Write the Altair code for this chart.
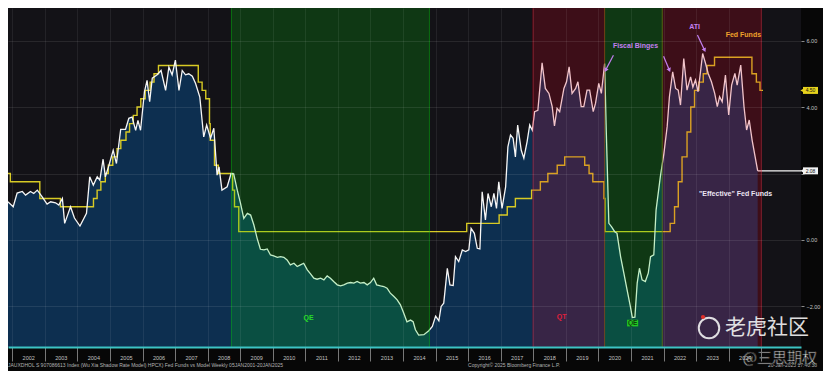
import altair as alt
import pandas as pd

# ---------------- data ----------------
# Wu-Xia shadow rate ("effective" fed funds), decimal years / percent
SHADOW_T = [2001.865, 2002.03, 2002.15, 2002.31, 2002.41, 2002.56, 2002.66, 2002.77, 2002.92, 2003.07,
            2003.18, 2003.33, 2003.43, 2003.54, 2003.61, 2003.79, 2003.91, 2004.08, 2004.28, 2004.38,
            2004.49, 2004.61, 2004.69, 2004.79, 2004.86, 2004.97, 2005.10, 2005.20, 2005.33, 2005.48,
            2005.58, 2005.68, 2005.79, 2005.86, 2005.94, 2006.06, 2006.14, 2006.22, 2006.30, 2006.45,
            2006.57, 2006.71, 2006.81, 2006.91, 2007.01, 2007.12, 2007.22, 2007.32, 2007.42, 2007.53,
            2007.63, 2007.76, 2007.88, 2007.97, 2008.09, 2008.19, 2008.29, 2008.35, 2008.44, 2008.60,
            2008.72, 2008.80, 2008.91, 2009.01, 2009.11, 2009.22, 2009.32, 2009.42, 2009.52, 2009.62,
            2009.73, 2009.83, 2009.93, 2010.03, 2010.14, 2010.24, 2010.34, 2010.44, 2010.54, 2010.65,
            2010.75, 2010.85, 2010.95, 2011.06, 2011.16, 2011.26, 2011.36, 2011.47, 2011.57, 2011.67,
            2011.77, 2011.87, 2011.98, 2012.08, 2012.18, 2012.29, 2012.39, 2012.49, 2012.59, 2012.69,
            2012.80, 2012.90, 2013.00, 2013.10, 2013.19, 2013.31, 2013.41, 2013.51, 2013.61, 2013.72,
            2013.82, 2013.92, 2014.02, 2014.12, 2014.23, 2014.31, 2014.38, 2014.48, 2014.64, 2014.79,
            2014.90, 2015.00, 2015.10, 2015.17, 2015.25, 2015.36, 2015.44, 2015.54, 2015.61, 2015.71,
            2015.82, 2015.92, 2016.02, 2016.09, 2016.19, 2016.28, 2016.36, 2016.43, 2016.53, 2016.61,
            2016.71, 2016.79, 2016.87, 2016.94, 2017.04, 2017.15, 2017.22, 2017.30, 2017.38, 2017.45,
            2017.52, 2017.63, 2017.71, 2017.81, 2017.89, 2017.97, 2018.04, 2018.14, 2018.27, 2018.37,
            2018.48, 2018.58, 2018.65, 2018.73, 2018.81, 2018.94, 2019.02, 2019.10, 2019.19, 2019.30,
            2019.37, 2019.47, 2019.55, 2019.65, 2019.73, 2019.84, 2019.91, 2020.01, 2020.09, 2020.19,
            2020.24, 2020.32, 2020.40, 2020.50, 2020.57, 2020.68, 2020.78, 2020.88, 2020.98, 2021.04,
            2021.12, 2021.19, 2021.26, 2021.34, 2021.44, 2021.53, 2021.60, 2021.70, 2021.77, 2021.90,
            2022.01, 2022.11, 2022.18, 2022.28, 2022.37, 2022.45, 2022.52, 2022.62, 2022.72, 2022.83,
            2022.90, 2022.98, 2023.06, 2023.14, 2023.20, 2023.29, 2023.37, 2023.47, 2023.57, 2023.65,
            2023.72, 2023.80, 2023.90, 2024.00, 2024.09, 2024.19, 2024.26, 2024.37, 2024.47, 2024.55,
            2024.63, 2024.72, 2024.89]
SHADOW_V = [1.15, 1.0, 1.41, 1.46, 1.35, 1.46, 1.4, 1.5, 1.3, 1.08,
            1.15, 1.12, 1.05, 1.25, 0.5, 1.0, 0.66, 0.42, 0.8, 1.9,
            1.65, 1.9, 1.8, 2.43, 1.9, 2.25, 2.7, 2.3, 3.33, 3.33,
            3.66, 3.7, 3.3, 3.6, 3.3, 4.46, 4.8, 4.16, 4.87, 4.97,
            5.1, 4.5, 5.2, 4.97, 5.41, 4.5, 5.1, 4.97, 5.0, 4.93,
            4.71, 4.3, 3.1, 3.46, 3.06, 3.36, 1.95, 2.2, 1.5, 1.6,
            2.0, 1.99, 1.5, 1.1, 0.65, 0.8, 0.75, 0.45, 0.05, -0.28,
            -0.30, -0.27, -0.45, -0.48, -0.52, -0.5, -0.52, -0.6, -0.75, -0.7,
            -0.8, -0.75, -0.7, -0.9, -1.02, -1.15, -1.18, -1.15, -1.2, -1.08,
            -1.15, -1.25, -1.35, -1.38, -1.35, -1.3, -1.28, -1.3, -1.25, -1.3,
            -1.28, -1.35, -1.28, -1.15, -1.35, -1.38, -1.4, -1.45, -1.6, -1.7,
            -1.8, -1.95, -2.2, -2.46, -2.41, -2.46, -2.7, -2.86, -2.85, -2.73,
            -2.6, -2.29, -2.43, -2.0, -1.9, -0.85, -1.35, -1.37, -0.5, -0.65,
            -0.3, -0.35, -0.3, 0.35, 0.2, -0.25, -0.27, 1.45, 0.6, 1.4,
            1.0, 1.4, 0.95, 1.75, 0.95, 1.6, 2.8, 3.16, 3.06, 2.5,
            3.46, 2.7, 2.46, 2.96, 3.46, 3.3, 3.86, 3.9, 5.33, 4.56,
            4.41, 4.01, 3.43, 3.96, 3.86, 4.56, 4.76, 5.21, 4.41, 4.56,
            4.76, 4.01, 4.01, 4.51, 4.51, 3.86, 4.11, 4.71, 4.41, 5.31,
            3.3, 0.5, 0.4, 0.25, 0.2, -0.5, -1.0, -1.5, -2.0, -2.33,
            -2.32, -1.3, -0.85, -1.2, -1.25, -1.0, -0.5, -0.45, 0.9, 1.9,
            2.6, 3.41, 4.31, 5.06, 4.56, 4.51, 4.06, 5.46, 4.51, 4.91,
            4.6, 4.81, 4.46, 5.11, 5.61, 5.31, 5.01, 4.76, 4.41, 4.01,
            4.31, 4.16, 4.96, 3.76, 4.66, 5.01, 4.66, 5.26, 4.01, 3.31,
            3.61, 3.0, 2.08]
LAST_SHADOW = 2.08

# Fed funds target (upper bound) changes
FF_DATES = ["2001-10-02", "2001-11-06", "2001-12-11", "2002-11-06", "2003-06-25", "2004-06-30",
            "2004-08-10", "2004-09-21", "2004-11-10", "2004-12-14", "2005-02-02", "2005-03-22",
            "2005-05-03", "2005-06-30", "2005-08-09", "2005-09-20", "2005-11-01", "2005-12-13",
            "2006-01-31", "2006-03-28", "2006-05-10", "2006-06-29", "2007-09-18", "2007-10-31",
            "2007-12-11", "2008-01-22", "2008-01-30", "2008-03-18", "2008-04-30", "2008-10-08",
            "2008-10-29", "2008-12-16", "2015-12-16", "2016-12-14", "2017-03-15", "2017-06-14",
            "2017-12-13", "2018-03-21", "2018-06-13", "2018-09-26", "2018-12-19", "2019-07-31",
            "2019-09-18", "2019-10-30", "2020-03-03", "2020-03-15", "2022-03-16", "2022-05-04",
            "2022-06-15", "2022-07-27", "2022-09-21", "2022-11-02", "2022-12-14", "2023-02-01",
            "2023-03-22", "2023-05-03", "2023-07-26", "2024-09-18", "2024-11-07", "2024-12-18",
            "2025-01-20"]
FF_RATE = [2.5, 2.0, 1.75, 1.25, 1.0, 1.25, 1.5, 1.75, 2.0, 2.25, 2.5, 2.75, 3.0, 3.25, 3.5, 3.75,
           4.0, 4.25, 4.5, 4.75, 5.0, 5.25, 4.75, 4.5, 4.25, 3.5, 3.0, 2.25, 2.0, 1.5, 1.0, 0.25,
           0.5, 0.75, 1.0, 1.25, 1.5, 1.75, 2.0, 2.25, 2.5, 2.25, 2.0, 1.75, 1.25, 0.25, 0.5, 1.0,
           1.75, 2.5, 3.25, 4.0, 4.5, 4.75, 5.0, 5.25, 5.5, 5.0, 4.75, 4.5, 4.5]
LAST_FF = 4.5

# QE / QT regimes
BAND_START = [2008.73, 2017.99, 2020.19, 2021.96]
BAND_END = [2014.81, 2020.19, 2021.96, 2025.00]
BAND_KIND = ["QE", "QT", "QE", "QT"]

# annotation texts and their anchor (year, value)
NOTE_TEXT = ["Fiscal Binges", "ATI", "Fed Funds", "\"Effective\" Fed Funds"]
NOTE_T = [2021.14, 2022.95, 2024.45, 2024.21]
NOTE_V = [5.83, 6.41, 6.17, 1.38]
NOTE_COLOR = ["#c27ff0", "#c27ff0", "#f0a22a", "#ece4f2"]

ARROW_T = [2020.46, 2022.00, 2023.04]
ARROW_V = [5.56, 5.53, 6.17]
ARROW_T2 = [2020.22, 2022.18, 2023.26]
ARROW_V2 = [5.11, 5.11, 5.71]
ARROW_ANGLE = [208, 157, 155]

REGIME_TEXT = ["QE", "QT", "QE"]
REGIME_T = [2011.10, 2018.87, 2021.05]
REGIME_V = [-2.35, -2.32, -2.5]
REGIME_BOXED = [False, False, True]

YEAR_TICKS = list(range(2002, 2026))
Y_TICKS = [-2, 0, 2, 4, 6]

FOOT_LEFT = "JAUXDHOL S 907086613 Index (Wu Xia Shadow Rate Model) HPCX) Fed Funds vs Model  Weekly 05JAN2001-20JAN2025"
FOOT_MID = "Copyright\u00a9 2025 Bloomberg Finance L.P."
FOOT_RIGHT = "20-Jan-2025 17:40:38"
WATERMARK_1 = "老虎社区"
WATERMARK_2 = "@三思期权"

# ---------------- layout ----------------
X_MIN, X_MAX = 2001.87, 2026.22
Y_MIN, Y_MAX = -3.22, 6.98
W, H = 793, 339
FONT = "Liberation Sans"


def dec_year(s):
    ts = pd.Timestamp(s)
    days = 366 if ts.is_leap_year else 365
    return ts.year + (ts.dayofyear - 1) / days


shadow = pd.DataFrame({"t": SHADOW_T, "v": SHADOW_V})
ff = pd.DataFrame({"t": [dec_year(d) for d in FF_DATES], "v": FF_RATE})
bands = pd.DataFrame({"t": BAND_START, "t2": BAND_END, "kind": BAND_KIND})
edges = pd.DataFrame({"t": BAND_START + BAND_END, "kind": BAND_KIND + BAND_KIND})
notes = pd.DataFrame({"t": NOTE_T, "v": NOTE_V, "txt": NOTE_TEXT, "c": NOTE_COLOR})
arrows = pd.DataFrame({"t": ARROW_T, "v": ARROW_V, "t2": ARROW_T2, "v2": ARROW_V2, "a": ARROW_ANGLE})
regimes = pd.DataFrame({"t": REGIME_T, "v": REGIME_V, "txt": REGIME_TEXT, "boxed": REGIME_BOXED})
plain_reg = regimes[~regimes.boxed]
boxed_reg = regimes[regimes.boxed].assign(t1=lambda d: d.t - 0.17, t2=lambda d: d.t + 0.17,
                                          v1=lambda d: d.v - 0.1, v2=lambda d: d.v + 0.1)
lastdf = pd.DataFrame({"t": [SHADOW_T[-1]], "t2": [X_MAX], "v": [LAST_SHADOW]})
boxes = pd.DataFrame({"v": [LAST_FF, LAST_SHADOW],
                      "hi": [LAST_FF + 0.105, LAST_SHADOW + 0.105],
                      "lo": [LAST_FF - 0.105, LAST_SHADOW - 0.105],
                      "txt": [f"{LAST_FF:.2f}", f"{LAST_SHADOW:.2f}"],
                      "fill": ["#e6d21c", "#f2f2f2"]})
one = pd.DataFrame({"k": [0]})

xscale = alt.Scale(domain=[X_MIN, X_MAX], nice=False, zero=False)
yscale = alt.Scale(domain=[Y_MIN, Y_MAX], nice=False, zero=False)

xaxis = alt.Axis(values=YEAR_TICKS, labelExpr="datum.value > 2024 ? '' : format(datum.value, 'd')",
                 labelOffset=16, labelPadding=-6, tickSize=14, tickColor="#777777",
                 labelColor="#c4c4c4", labelFontSize=5.5, labelFont=FONT,
                 domainColor="#3cc4c4", domainWidth=2, grid=True, gridColor="#ffffff",
                 gridOpacity=0.07, title=None, zindex=1, labelFlush=False, labelOverlap=False)
yaxis = alt.Axis(orient="right", values=Y_TICKS,
                 labelExpr="datum.value == 2 ? '' : format(datum.value, '.2f')",
                 tickSize=3, tickColor="#8a8a8a", labelColor="#c4c4c4", labelFontSize=5.5,
                 labelFont=FONT, labelPadding=2, domain=False, grid=True, gridColor="#ffffff",
                 gridOpacity=0.09, title=None, zindex=1)


def X(f):
    return alt.X(f, type="quantitative", scale=xscale, axis=xaxis)


def Y(f):
    return alt.Y(f, type="quantitative", scale=yscale, axis=yaxis)


kind_color = alt.Color("kind:N", scale=alt.Scale(domain=["QE", "QT"], range=["#00d00c", "#e6001e"]),
                       legend=None)

area = alt.Chart(shadow).mark_area(color="#0d2f50", clip=True).encode(
    x=X("t"), y=Y("v"), y2=alt.datum(Y_MIN))
ffline = alt.Chart(ff).mark_line(color="#d8ca24", strokeWidth=1.4, interpolate="step-after",
                                 clip=True).encode(x=X("t"), y=Y("v"))
shline = alt.Chart(shadow).mark_line(color="#f6f6f6", strokeWidth=1.3, clip=True).encode(
    x=X("t"), y=Y("v"))
lastrule = alt.Chart(lastdf).mark_rule(color="#f6f6f6", strokeWidth=1.3).encode(
    x=X("t"), x2="t2", y=Y("v"))

bandrect = alt.Chart(bands).mark_rect(opacity=0.2).encode(
    x=X("t"), x2="t2", y=alt.value(0), y2=alt.value(H), color=kind_color)
bandedge = alt.Chart(edges).mark_rule(opacity=0.45, strokeWidth=1).encode(
    x=X("t"), y=alt.value(0), y2=alt.value(H), color=kind_color)

arrow_lines = alt.Chart(arrows).mark_rule(color="#c27ff0", strokeWidth=1.2).encode(
    x=X("t"), y=Y("v"), x2="t2", y2="v2")
arrow_heads = alt.Chart(arrows).mark_point(shape="triangle-up", filled=True, size=22,
                                          color="#c27ff0", opacity=1).encode(
    x=X("t2"), y=Y("v2"), angle=alt.Angle("a:Q", scale=None))

note_text = alt.Chart(notes).mark_text(font=FONT, fontSize=7, fontWeight="bold").encode(
    x=X("t"), y=Y("v"), text="txt:N", color=alt.Color("c:N", scale=None))

qe_box = alt.Chart(boxed_reg).mark_rect(color="#22c822").encode(
    x=X("t1"), x2="t2", y=Y("v1"), y2="v2")
qe_box_text = alt.Chart(boxed_reg).mark_text(font=FONT, fontSize=6.5, fontWeight="bold",
                                             color="#0b3d0b").encode(
    x=X("t"), y=Y("v"), text="txt:N")
regime_text = alt.Chart(plain_reg).mark_text(font=FONT, fontSize=7, fontWeight="bold").encode(
    x=X("t"), y=Y("v"), text="txt:N",
    color=alt.Color("txt:N", scale=alt.Scale(domain=["QE", "QT"], range=["#26dc26", "#e0203c"]),
                    legend=None))

box_rect = alt.Chart(boxes).mark_rect().encode(
    x=alt.value(W + 2), x2=alt.value(W + 17), y=Y("hi"), y2="lo",
    fill=alt.Color("fill:N", scale=None))
box_tip = alt.Chart(boxes).mark_point(shape="triangle-left", filled=True, size=14, opacity=1).encode(
    x=alt.value(W + 1), y=Y("v"), fill=alt.Color("fill:N", scale=None), stroke=alt.value(None))
box_text = alt.Chart(boxes).mark_text(font=FONT, fontSize=5, color="#111111").encode(
    x=alt.value(W + 9.5), y=Y("v"), text="txt:N")

foot_l = alt.Chart(one).mark_text(font=FONT, fontSize=5, color="#b4b4b4", align="left",
                                  baseline="middle", text=FOOT_LEFT).encode(
    x=alt.value(0), y=alt.value(H + 18))
foot_m = alt.Chart(one).mark_text(font=FONT, fontSize=5, color="#b4b4b4", align="center",
                                  baseline="middle", text=FOOT_MID).encode(
    x=alt.value(506), y=alt.value(H + 18))
foot_r = alt.Chart(one).mark_text(font=FONT, fontSize=5, color="#b4b4b4", align="right",
                                  baseline="middle", text=FOOT_RIGHT).encode(
    x=alt.value(W + 16), y=alt.value(H + 18))

wm_logo = alt.Chart(one).mark_point(shape="circle", size=420, filled=False, color="#f2f2f2",
                                    strokeWidth=2, opacity=0.9).encode(
    x=alt.value(701), y=alt.value(320))
wm_dot = alt.Chart(one).mark_point(shape="circle", size=18, filled=True, color="#e0302a",
                                   opacity=1).encode(x=alt.value(695), y=alt.value(309))
wm_1 = alt.Chart(one).mark_text(font="Noto Sans CJK SC", fontSize=21, color="#f0f0f0",
                                opacity=0.92, align="left", baseline="middle", text=WATERMARK_1).encode(
    x=alt.value(717), y=alt.value(320))
wm_2 = alt.Chart(one).mark_text(font="Noto Sans CJK SC", fontSize=15, color="#f4f4f4",
                                stroke="#222222", strokeWidth=0.6, align="right", baseline="middle",
                                text=WATERMARK_2).encode(
    x=alt.value(W + 16), y=alt.value(H + 11))

chart = alt.layer(
    area, ffline, shline, lastrule, bandrect, bandedge,
    arrow_lines, arrow_heads, note_text, qe_box, qe_box_text, regime_text,
    box_rect, box_tip, box_text, foot_l, foot_m, foot_r,
    wm_logo, wm_dot, wm_1, wm_2
).resolve_scale(color="independent").properties(
    width=W, height=H,
    autosize=alt.AutoSizeParams(type="none"),
    padding={"left": 0, "top": 0, "right": 22, "bottom": 24},
).configure(background="#070707").configure_view(fill="#131217", strokeWidth=0)

chart.save("out.html", embed_options={"renderer": "svg", "actions": False})
